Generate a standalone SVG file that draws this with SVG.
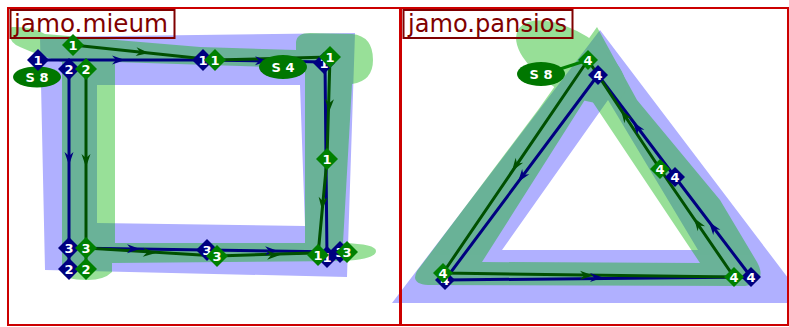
<svg xmlns="http://www.w3.org/2000/svg" xmlns:xlink="http://www.w3.org/1999/xlink" width="789" height="327" viewBox="0 0 789 327">
<style>
.blue{fill:#b0b0ff;fill-rule:evenodd}
.gfill{fill:#09b509;fill-rule:evenodd}
.title{fill:none;stroke:#800000;stroke-width:2}
.ttext{font-family:"DejaVu Sans",sans-serif;font-size:24px;fill:#800000}
.ln{fill:none;stroke-width:3;stroke-linejoin:round}
.nv{stroke:#000080}
.gr{stroke:#005000}
.dn{fill:#000080}
.dg{fill:#008000}
.num{font-family:"DejaVu Sans",sans-serif;font-size:13px;font-weight:bold;fill:#fff;text-anchor:middle}
.lbl{font-family:"DejaVu Sans",sans-serif;font-size:13px;font-weight:bold;fill:#fff;text-anchor:middle}
.ell{fill:#007700}
.panel{fill:none;stroke:#cc0000;stroke-width:2}
</style>
<defs>
<path id="ah" d="M0,0 L-13,-4.5 L-9,0 L-13,4.5 Z"/>
<path id="dm" d="M0,-11 L11,0 L0,11 L-11,0 Z"/>
<path id="ds" d="M0,-10 L10,0 L0,10 L-10,0 Z"/>
</defs>

<g id="shapes">
<path class="blue" d="M40,37 L355,33 L347,277 L45,270 Z M97,85 L300,85 L305,226 L97,223 Z"/>
<path class="blue" d="M600,30 L807,303 L392,303 Z M502,250 L608,100 L698,250 Z"/>
<g opacity="0.42">
<path class="gfill" d="M12,27 Q32,26 45,34 L200,47 L296,50 L296,42 Q297,33 310,33 L352,34 Q373,36 373,60 Q373,81 352,84 L343,243 Q376,244 376,251 Q376,259 344,261 L112,263 L112,272 Q104,280 88,280 Q62,280 62,271 L62,62 Q40,56 20,47 Q10,43 10,35 Q10,27 12,27 Z M115,62 L115,243 L305,243 L305,68 Z"/>
</g>
<g opacity="0.42">
<path class="gfill" d="M597,27 L637,100 L720,200 L757,262 Q768,282 745,286 L428,285 Q410,284 417,271 L538,110 Z M482,262 L588,95 L700,263 Z"/>
<ellipse class="gfill" cx="571" cy="62" rx="62" ry="30" transform="rotate(32 571 62)"/>
</g>
</g>

<g id="titles">
<rect class="title" x="10.5" y="10" width="164" height="28"/>
<text class="ttext" x="14" y="32" textLength="154" lengthAdjust="spacingAndGlyphs">jamo.mieum</text>
<rect class="title" x="403.5" y="10" width="169" height="28"/>
<text class="ttext" x="408" y="32" textLength="159" lengthAdjust="spacingAndGlyphs">jamo.pansios</text>
</g>

<g id="connectors">
<polyline class="ln nv" points="38,60 203,60 325,62 327,257"/>
<polyline class="ln nv" points="69,69 69,269"/>
<polyline class="ln nv" points="69,248 207,250 340,252"/>
<polyline class="ln gr" points="73,45 215,60 330,57 327,159 318,255"/>
<polyline class="ln gr" points="86,69 86,269"/>
<polyline class="ln gr" points="86,248 217,256 347,252"/>
<polyline class="ln nv" points="598,75 445,280 751,277 675,177 598,75"/>
<polyline class="ln gr" points="588,60 443,273 734,277 660,169 588,60"/>
<line class="ln" stroke="#008000" x1="560" y1="69" x2="588" y2="60"/>
<use xlink:href="#ah" href="#ah" fill="#000080" transform="translate(125,60)"/>
<use xlink:href="#ah" href="#ah" fill="#000080" transform="translate(268,61) rotate(1)"/>
<use xlink:href="#ah" href="#ah" fill="#000080" transform="translate(69,165) rotate(90)"/>
<use xlink:href="#ah" href="#ah" fill="#000080" transform="translate(140,249) rotate(1)"/>
<use xlink:href="#ah" href="#ah" fill="#000080" transform="translate(278,251) rotate(1)"/>
<use xlink:href="#ah" href="#ah" fill="#005000" transform="translate(149,53) rotate(6)"/>
<use xlink:href="#ah" href="#ah" fill="#005000" transform="translate(329,112) rotate(92)"/>
<use xlink:href="#ah" href="#ah" fill="#005000" transform="translate(322,210) rotate(95)"/>
<use xlink:href="#ah" href="#ah" fill="#005000" transform="translate(86,167) rotate(90)"/>
<use xlink:href="#ah" href="#ah" fill="#005000" transform="translate(156,253) rotate(3.5)"/>
<use xlink:href="#ah" href="#ah" fill="#005000" transform="translate(280,255) rotate(-1)"/>
<use xlink:href="#ah" href="#ah" fill="#000080" transform="translate(518,182) rotate(126.7)"/>
<use xlink:href="#ah" href="#ah" fill="#000080" transform="translate(603,277.5) rotate(0)"/>
<use xlink:href="#ah" href="#ah" fill="#000080" transform="translate(709,222) rotate(-127.2)"/>
<use xlink:href="#ah" href="#ah" fill="#000080" transform="translate(633,122) rotate(-127)"/>
<use xlink:href="#ah" href="#ah" fill="#005000" transform="translate(512,171) rotate(124.3)"/>
<use xlink:href="#ah" href="#ah" fill="#005000" transform="translate(593,275.5) rotate(0.6)"/>
<use xlink:href="#ah" href="#ah" fill="#005000" transform="translate(694,218) rotate(-124.4)"/>
<use xlink:href="#ah" href="#ah" fill="#005000" transform="translate(621,110) rotate(-123.4)"/>
</g>

<g id="label-s8-left"><ellipse class="ell" cx="37" cy="77" rx="24" ry="10.5"/><text class="lbl" x="37" y="82">S 8</text></g>
<g id="label-s4"><ellipse class="ell" cx="283" cy="67" rx="24" ry="12"/><text class="lbl" x="283" y="72">S 4</text></g>
<g id="label-s8-right"><ellipse class="ell" cx="541" cy="74" rx="24" ry="12"/><text class="lbl" x="541" y="79">S 8</text></g>

<g id="navy-markers-left">
<g id="n1a"><use href="#dm" xlink:href="#dm" class="dn" x="38" y="60"/><text class="num" x="38" y="65">1</text></g>
<g id="n2a"><use href="#dm" xlink:href="#dm" class="dn" x="69" y="69"/><text class="num" x="69" y="74">2</text></g>
<g id="n1b"><use href="#dm" xlink:href="#dm" class="dn" x="203" y="60"/><text class="num" x="203" y="65">1</text></g>
<g id="n1c"><use href="#dm" xlink:href="#dm" class="dn" x="324" y="63"/><text class="num" x="324" y="68">1</text></g>
<g id="n1d"><use href="#dm" xlink:href="#dm" class="dn" x="327" y="257"/><text class="num" x="327" y="262">1</text></g>
<g id="n3a"><use href="#dm" xlink:href="#dm" class="dn" x="69" y="248"/><text class="num" x="69" y="253">3</text></g>
<g id="n2b"><use href="#dm" xlink:href="#dm" class="dn" x="69" y="269"/><text class="num" x="69" y="274">2</text></g>
<g id="n3b"><use href="#dm" xlink:href="#dm" class="dn" x="207" y="250"/><text class="num" x="207" y="255">3</text></g>
<g id="n3c"><use href="#dm" xlink:href="#dm" class="dn" x="340" y="252"/><text class="num" x="340" y="257">3</text></g>
</g>
<g id="green-markers-left">
<g id="g1a"><use href="#dm" xlink:href="#dm" class="dg" x="73" y="45"/><text class="num" x="73" y="50">1</text></g>
<g id="g2a"><use href="#dm" xlink:href="#dm" class="dg" x="86" y="69"/><text class="num" x="86" y="74">2</text></g>
<g id="g1b"><use href="#dm" xlink:href="#dm" class="dg" x="215" y="60"/><text class="num" x="215" y="65">1</text></g>
<g id="g1c"><use href="#dm" xlink:href="#dm" class="dg" x="330" y="57"/><text class="num" x="330" y="62">1</text></g>
<g id="g1d"><use href="#dm" xlink:href="#dm" class="dg" x="327" y="159"/><text class="num" x="327" y="164">1</text></g>
<g id="g1e"><use href="#dm" xlink:href="#dm" class="dg" x="318" y="255"/><text class="num" x="318" y="260">1</text></g>
<g id="g3a"><use href="#dm" xlink:href="#dm" class="dg" x="86" y="248"/><text class="num" x="86" y="253">3</text></g>
<g id="g2b"><use href="#dm" xlink:href="#dm" class="dg" x="86" y="269"/><text class="num" x="86" y="274">2</text></g>
<g id="g3b"><use href="#dm" xlink:href="#dm" class="dg" x="217" y="256"/><text class="num" x="217" y="261">3</text></g>
<g id="g3c"><use href="#dm" xlink:href="#dm" class="dg" x="347" y="252"/><text class="num" x="347" y="257">3</text></g>
</g>

<g id="markers-right">
<g id="rn4b"><use href="#ds" xlink:href="#ds" class="dn" x="445" y="280"/><text class="num" x="445" y="285">4</text></g>
<g id="rn4c"><use href="#ds" xlink:href="#ds" class="dn" x="751" y="277"/><text class="num" x="751" y="282">4</text></g>
<g id="rn4d"><use href="#ds" xlink:href="#ds" class="dn" x="675" y="177"/><text class="num" x="675" y="182">4</text></g>
<g id="rg4a"><use href="#ds" xlink:href="#ds" class="dg" x="588" y="60"/><text class="num" x="588" y="65">4</text></g>
<g id="rg4b"><use href="#ds" xlink:href="#ds" class="dg" x="443" y="273"/><text class="num" x="443" y="278">4</text></g>
<g id="rg4c"><use href="#ds" xlink:href="#ds" class="dg" x="734" y="277"/><text class="num" x="734" y="282">4</text></g>
<g id="rg4d"><use href="#ds" xlink:href="#ds" class="dg" x="660" y="169"/><text class="num" x="660" y="174">4</text></g>
<g id="rn4a"><use href="#ds" xlink:href="#ds" class="dn" x="598" y="75"/><text class="num" x="598" y="80">4</text></g>
</g>

<g id="panels">
<rect class="panel" x="8" y="8" width="392" height="317"/>
<rect class="panel" x="401" y="8" width="387" height="317"/>
</g>
</svg>
